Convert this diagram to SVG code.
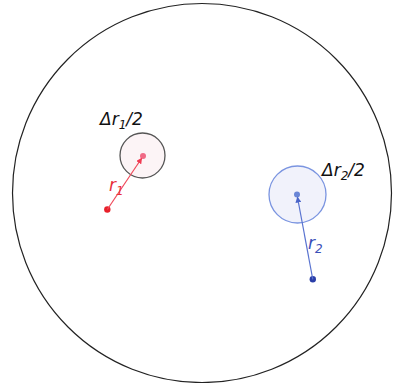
<svg xmlns="http://www.w3.org/2000/svg" width="393" height="383" viewBox="0 0 393 383">
<style>
.lbl{font-family:"DejaVu Sans","Liberation Sans",sans-serif;font-style:italic;font-size:17px}
.sub{font-size:12px}
</style>
<defs>
<marker id="arR" viewBox="0 0 6 6" refX="5" refY="3" markerWidth="5" markerHeight="5" orient="auto"><path d="M0,0 L6,3 L0,6 z" fill="#f03a52"/></marker>
<marker id="arB" viewBox="0 0 6 6" refX="5" refY="3" markerWidth="5" markerHeight="5" orient="auto"><path d="M0,0 L6,3 L0,6 z" fill="#4a64c8"/></marker>
</defs>
<rect width="393" height="383" fill="#fff"/>
<g id="outer"><circle cx="202" cy="193" r="189.5" fill="none" stroke="#222" stroke-width="1.2"/></g>
<g id="node1">
<circle cx="142.5" cy="155.5" r="22.5" fill="#fcf4f6" stroke="#555" stroke-width="1.3"/>
<circle cx="143" cy="156" r="3" fill="#f06a86"/>
<text class="lbl" x="100" y="125" fill="#111">Δr<tspan class="sub" dy="4">1</tspan><tspan dy="-4">/2</tspan></text>
</g>
<g id="node2">
<circle cx="297.5" cy="194.5" r="28.5" fill="#f1f2fb" stroke="#7a94e0" stroke-width="1.3"/>
<circle cx="297" cy="194.5" r="3" fill="#6a86d6"/>
<text class="lbl" x="322" y="176" fill="#111">Δr<tspan class="sub" dy="4">2</tspan><tspan dy="-4">/2</tspan></text>
</g>
<g id="p1"><circle cx="107.3" cy="209.5" r="3.2" fill="#e8202a"/></g>
<g id="p2"><circle cx="312.8" cy="279.3" r="3.2" fill="#2a3ea8"/></g>
<g id="connectors">
<line x1="107.3" y1="209.5" x2="141.5" y2="158.5" stroke="#f04a5a" stroke-width="1.2" marker-end="url(#arR)"/>
<text class="lbl" x="109" y="191" fill="#e8303a">r<tspan class="sub" dy="4">1</tspan></text>
<line x1="312.8" y1="279.3" x2="297.5" y2="197.5" stroke="#5a74d0" stroke-width="1.2" marker-end="url(#arB)"/>
<text class="lbl" x="308" y="249" fill="#3a50b8">r<tspan class="sub" dy="4">2</tspan></text>
</g>
</svg>
